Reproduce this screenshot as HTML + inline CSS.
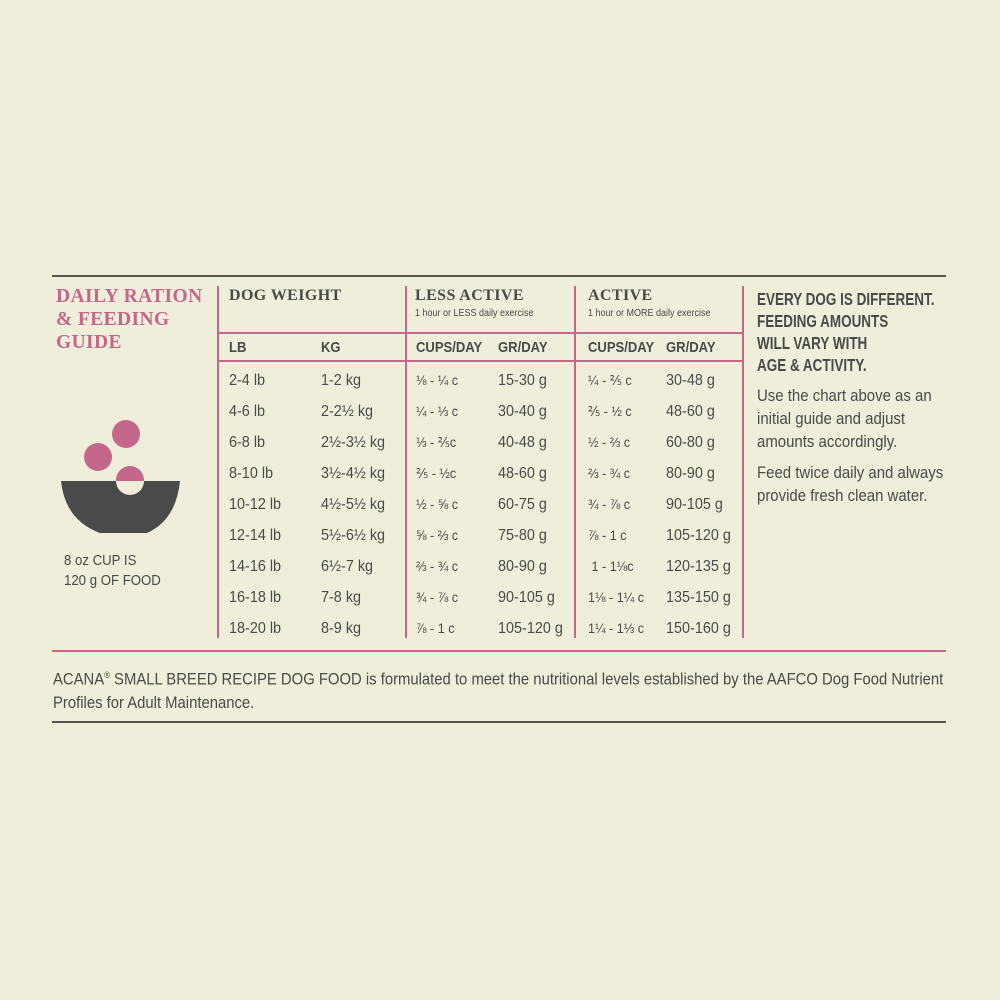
<!DOCTYPE html>
<html><head><meta charset="utf-8"><style>
body{margin:0;width:1000px;height:1000px;background:#efeedb;position:relative;overflow:hidden;font-family:"Liberation Sans",sans-serif;color:#4a4a4a}
div{position:absolute;white-space:nowrap;transform-origin:0 0}
.h{height:2px}
.v{width:2px;background:#c5678a}
.t{font-size:16px;line-height:20px;transform:scaleX(0.9)}
.s{font-family:"Liberation Serif",serif;font-weight:bold;font-size:16px;letter-spacing:0.4px}
.c{font-weight:bold;font-size:15px;transform:scaleX(0.87)}
.sub{font-size:10px;transform:scaleX(0.9)}
</style></head><body>
<div class="h" style="left:52px;top:275px;width:894px;background:#555"></div>
<div class="h" style="left:218px;top:332px;width:525px;background:#c5678a"></div>
<div class="h" style="left:218px;top:360px;width:525px;background:#c5678a"></div>
<div class="h" style="left:52px;top:650px;width:894px;background:#c5678a"></div>
<div class="h" style="left:52px;top:721px;width:894px;background:#555"></div>
<div class="v" style="left:217px;top:286px;height:352px"></div>
<div class="v" style="left:405px;top:286px;height:352px"></div>
<div class="v" style="left:574px;top:286px;height:352px"></div>
<div class="v" style="left:742px;top:286px;height:352px"></div>

<div class="s" style="left:56px;top:285px;color:#c5678a;font-size:19.5px;line-height:23px">DAILY RATION<br>&amp; FEEDING<br>GUIDE</div>
<div class="s" style="left:229px;top:287px">DOG WEIGHT</div>
<div class="s" style="left:415px;top:287px">LESS ACTIVE</div>
<div class="sub" style="left:415px;top:308px">1 hour or LESS daily exercise</div>
<div class="s" style="left:588px;top:287px">ACTIVE</div>
<div class="sub" style="left:588px;top:308px">1 hour or MORE daily exercise</div>
<div class="c" style="left:229px;top:339px">LB</div>
<div class="c" style="left:321px;top:339px">KG</div>
<div class="c" style="left:416px;top:339px">CUPS/DAY</div>
<div class="c" style="left:498px;top:339px">GR/DAY</div>
<div class="c" style="left:588px;top:339px">CUPS/DAY</div>
<div class="c" style="left:666px;top:339px">GR/DAY</div>

<div class="t" style="left:229px;top:365px;line-height:31px">2-4 lb<br>4-6 lb<br>6-8 lb<br>8-10 lb<br>10-12 lb<br>12-14 lb<br>14-16 lb<br>16-18 lb<br>18-20 lb</div>
<div class="t" style="left:321px;top:365px;line-height:31px">1-2 kg<br>2-2½ kg<br>2½-3½ kg<br>3½-4½ kg<br>4½-5½ kg<br>5½-6½ kg<br>6½-7 kg<br>7-8 kg<br>8-9 kg</div>
<div class="t" style="left:416px;top:365px;line-height:31px;font-size:14px">⅛ - ¼ c<br>¼ - ⅓ c<br>⅓ - ⅖c<br>⅖ - ½c<br>½ - ⅝ c<br>⅝ - ⅔ c<br>⅔ - ¾ c<br>¾ - ⅞ c<br>⅞ - 1 c</div>
<div class="t" style="left:498px;top:365px;line-height:31px">15-30 g<br>30-40 g<br>40-48 g<br>48-60 g<br>60-75 g<br>75-80 g<br>80-90 g<br>90-105 g<br>105-120 g</div>
<div class="t" style="left:588px;top:365px;line-height:31px;font-size:14px">¼ - ⅖ c<br>⅖ - ½ c<br>½ - ⅔ c<br>⅔ - ¾ c<br>¾ - ⅞ c<br>⅞ - 1 c<br>&nbsp;1 - 1⅛c<br>1⅛ - 1¼ c<br>1¼ - 1⅓ c</div>
<div class="t" style="left:666px;top:365px;line-height:31px">30-48 g<br>48-60 g<br>60-80 g<br>80-90 g<br>90-105 g<br>105-120 g<br>120-135 g<br>135-150 g<br>150-160 g</div>

<div style="left:757px;top:288px;font-weight:bold;font-size:17.5px;line-height:22px;transform:scaleX(0.77)">EVERY DOG IS DIFFERENT.<br>FEEDING AMOUNTS<br>WILL VARY WITH<br>AGE &amp; ACTIVITY.</div>
<div style="left:757px;top:384px;font-size:17px;line-height:23px;transform:scaleX(0.88)">Use the chart above as an<br>initial guide and adjust<br>amounts accordingly.</div>
<div style="left:757px;top:461px;font-size:17px;line-height:23px;transform:scaleX(0.88)">Feed twice daily and always<br>provide fresh clean water.</div>

<svg style="position:absolute;left:0;top:0" width="220" height="560">
<circle cx="126" cy="434" r="14" fill="#c5678a"/>
<circle cx="98" cy="457" r="14" fill="#c5678a"/>
<circle cx="130" cy="480" r="14" fill="#c5678a"/>
<path d="M61 481 L180 481 Q176 520 147 533 L100 533 Q65 520 61 481 Z" fill="#4a4a4a"/>
<path d="M116 481 A14 14 0 0 0 144 481 Z" fill="#efeedb"/>
</svg>
<div style="left:64px;top:551px;font-size:15px;line-height:20px;transform:scaleX(0.88)">8 oz CUP IS<br>120 g OF FOOD</div>

<div style="left:53px;top:664px;font-size:17px;line-height:23px;transform:scaleX(0.873)">ACANA<sup style="font-size:9px">®</sup> SMALL BREED RECIPE DOG FOOD is formulated to meet the nutritional levels established by the AAFCO Dog Food Nutrient<br>Profiles for Adult Maintenance.</div>
</body></html>
